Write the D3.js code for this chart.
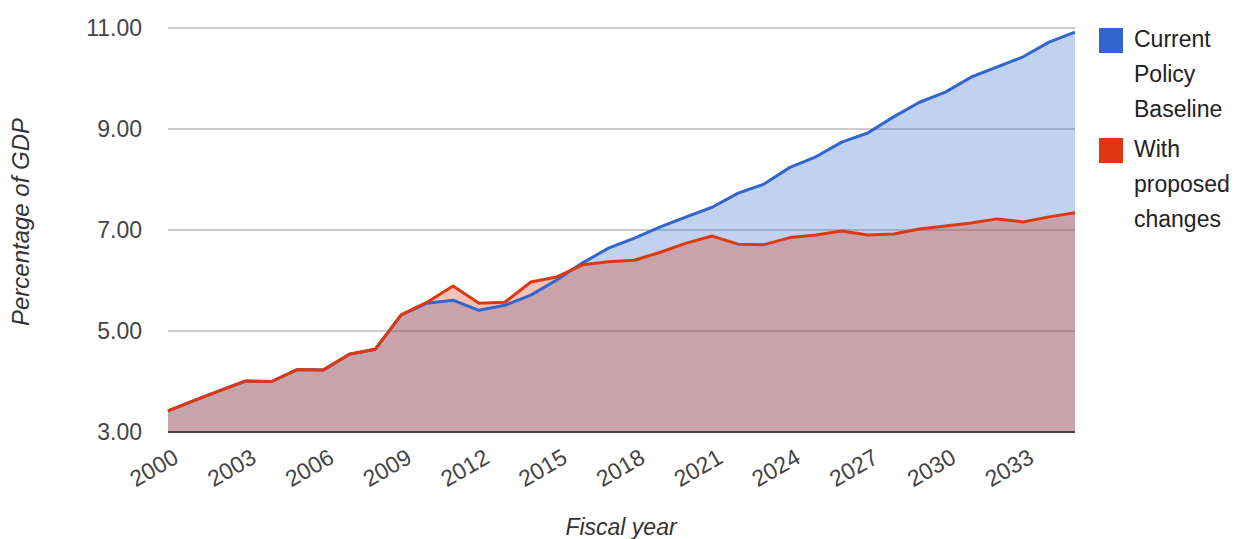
<!DOCTYPE html>
<html>
<head>
<meta charset="utf-8">
<script src="https://cdn.jsdelivr.net/npm/d3@7"></script>
<style>
  body { margin: 0; background: #fff; }
  text { font-family: "Liberation Sans", Arial, sans-serif; }
</style>
</head>
<body>
<svg id="chart" width="1242" height="539"></svg>
<script>
// fiscal years 2000..2035
var years = d3.range(2000, 2036);
var baseline = [3.42, 3.62, 3.82, 4.01, 4.0, 4.24, 4.23, 4.54, 4.64, 5.32,
  5.55, 5.61, 5.41, 5.51, 5.71, 6.01, 6.35, 6.64, 6.84, 7.06,
  7.26, 7.45, 7.73, 7.91, 8.24, 8.45, 8.74, 8.92, 9.24, 9.53,
  9.73, 10.03, 10.23, 10.43, 10.72, 10.92];
var proposed = [3.42, 3.62, 3.82, 4.01, 4.0, 4.24, 4.23, 4.54, 4.64, 5.32,
  5.57, 5.89, 5.55, 5.57, 5.97, 6.07, 6.31, 6.37, 6.40, 6.56,
  6.74, 6.88, 6.72, 6.71, 6.85, 6.90, 6.98, 6.90, 6.92, 7.02,
  7.08, 7.14, 7.22, 7.16, 7.26, 7.34];
var yTicks = [3, 5, 7, 9, 11];
var xTicks = d3.range(2000, 2034, 3);
var seriesNames = [["Current", "Policy", "Baseline"], ["With", "proposed", "changes"]];
var colors = ["#3366cc", "#dc3912"];

var svg = d3.select("#chart");
var plotLeft = 168, plotRight = 1075, plotTop = 28, plotBottom = 432;

var x = d3.scaleLinear().domain([2000, 2035]).range([plotLeft, plotRight]);
var y = d3.scaleLinear().domain([3, 11]).range([plotBottom, plotTop]);

// gridlines
svg.append("g")
  .selectAll("line")
  .data(yTicks.filter(function (d) { return d > 3; }))
  .enter()
  .append("line")
  .attr("x1", plotLeft).attr("x2", plotRight)
  .attr("y1", function (d) { return y(d); })
  .attr("y2", function (d) { return y(d); })
  .attr("stroke", "#cccccc")
  .attr("stroke-width", 2);

var series = [baseline, proposed];

var area = d3.area()
  .x(function (d, i) { return x(years[i]); })
  .y0(y(3))
  .y1(function (d) { return y(d); });

var line = d3.line()
  .x(function (d, i) { return x(years[i]); })
  .y(function (d) { return y(d); });

series.forEach(function (s, k) {
  svg.append("path")
    .attr("d", area(s))
    .attr("fill", colors[k])
    .attr("fill-opacity", 0.3);
});

// baseline axis line
svg.append("line")
  .attr("x1", plotLeft).attr("x2", plotRight)
  .attr("y1", y(3)).attr("y2", y(3))
  .attr("stroke", "#444")
  .attr("stroke-width", 2);

series.forEach(function (s, k) {
  svg.append("path")
    .attr("d", line(s))
    .attr("fill", "none")
    .attr("stroke", colors[k])
    .attr("stroke-width", 3)
    .attr("stroke-linejoin", "round");
});

// y tick labels
svg.append("g")
  .selectAll("text")
  .data(yTicks)
  .enter()
  .append("text")
  .attr("x", 142)
  .attr("y", function (d) { return y(d); })
  .attr("dy", "0.35em")
  .attr("text-anchor", "end")
  .attr("font-size", 23)
  .attr("fill", "#444")
  .text(function (d) { return d3.format(".2f")(d); });

// x tick labels, rotated
svg.append("g")
  .selectAll("text")
  .data(xTicks)
  .enter()
  .append("text")
  .attr("transform", function (d) {
    return "translate(" + (x(d) + 4) + "," + 448 + ") rotate(-30)";
  })
  .attr("text-anchor", "end")
  .attr("dy", "0.7em")
  .attr("font-size", 23)
  .attr("fill", "#444")
  .text(function (d) { return d; });

// axis titles
svg.append("text")
  .attr("x", 621).attr("y", 535)
  .attr("text-anchor", "middle")
  .attr("font-size", 23)
  .attr("font-style", "italic")
  .attr("fill", "#333")
  .text("Fiscal year");

svg.append("text")
  .attr("transform", "translate(29,222) rotate(-90)")
  .attr("text-anchor", "middle")
  .attr("font-size", 24)
  .attr("font-style", "italic")
  .attr("fill", "#333")
  .text("Percentage of GDP");

// legend
var legendTop = [28, 138];
seriesNames.forEach(function (names, k) {
  svg.append("rect")
    .attr("x", 1099).attr("y", legendTop[k])
    .attr("width", 24).attr("height", 25)
    .attr("fill", colors[k]);
  var t = svg.append("text")
    .attr("x", 1134)
    .attr("y", legendTop[k] + 19)
    .attr("font-size", 23)
    .attr("fill", "#222");
  names.forEach(function (n, i) {
    t.append("tspan")
      .attr("x", 1134)
      .attr("dy", i === 0 ? 0 : 35)
      .text(n);
  });
});
</script>
</body>
</html>
